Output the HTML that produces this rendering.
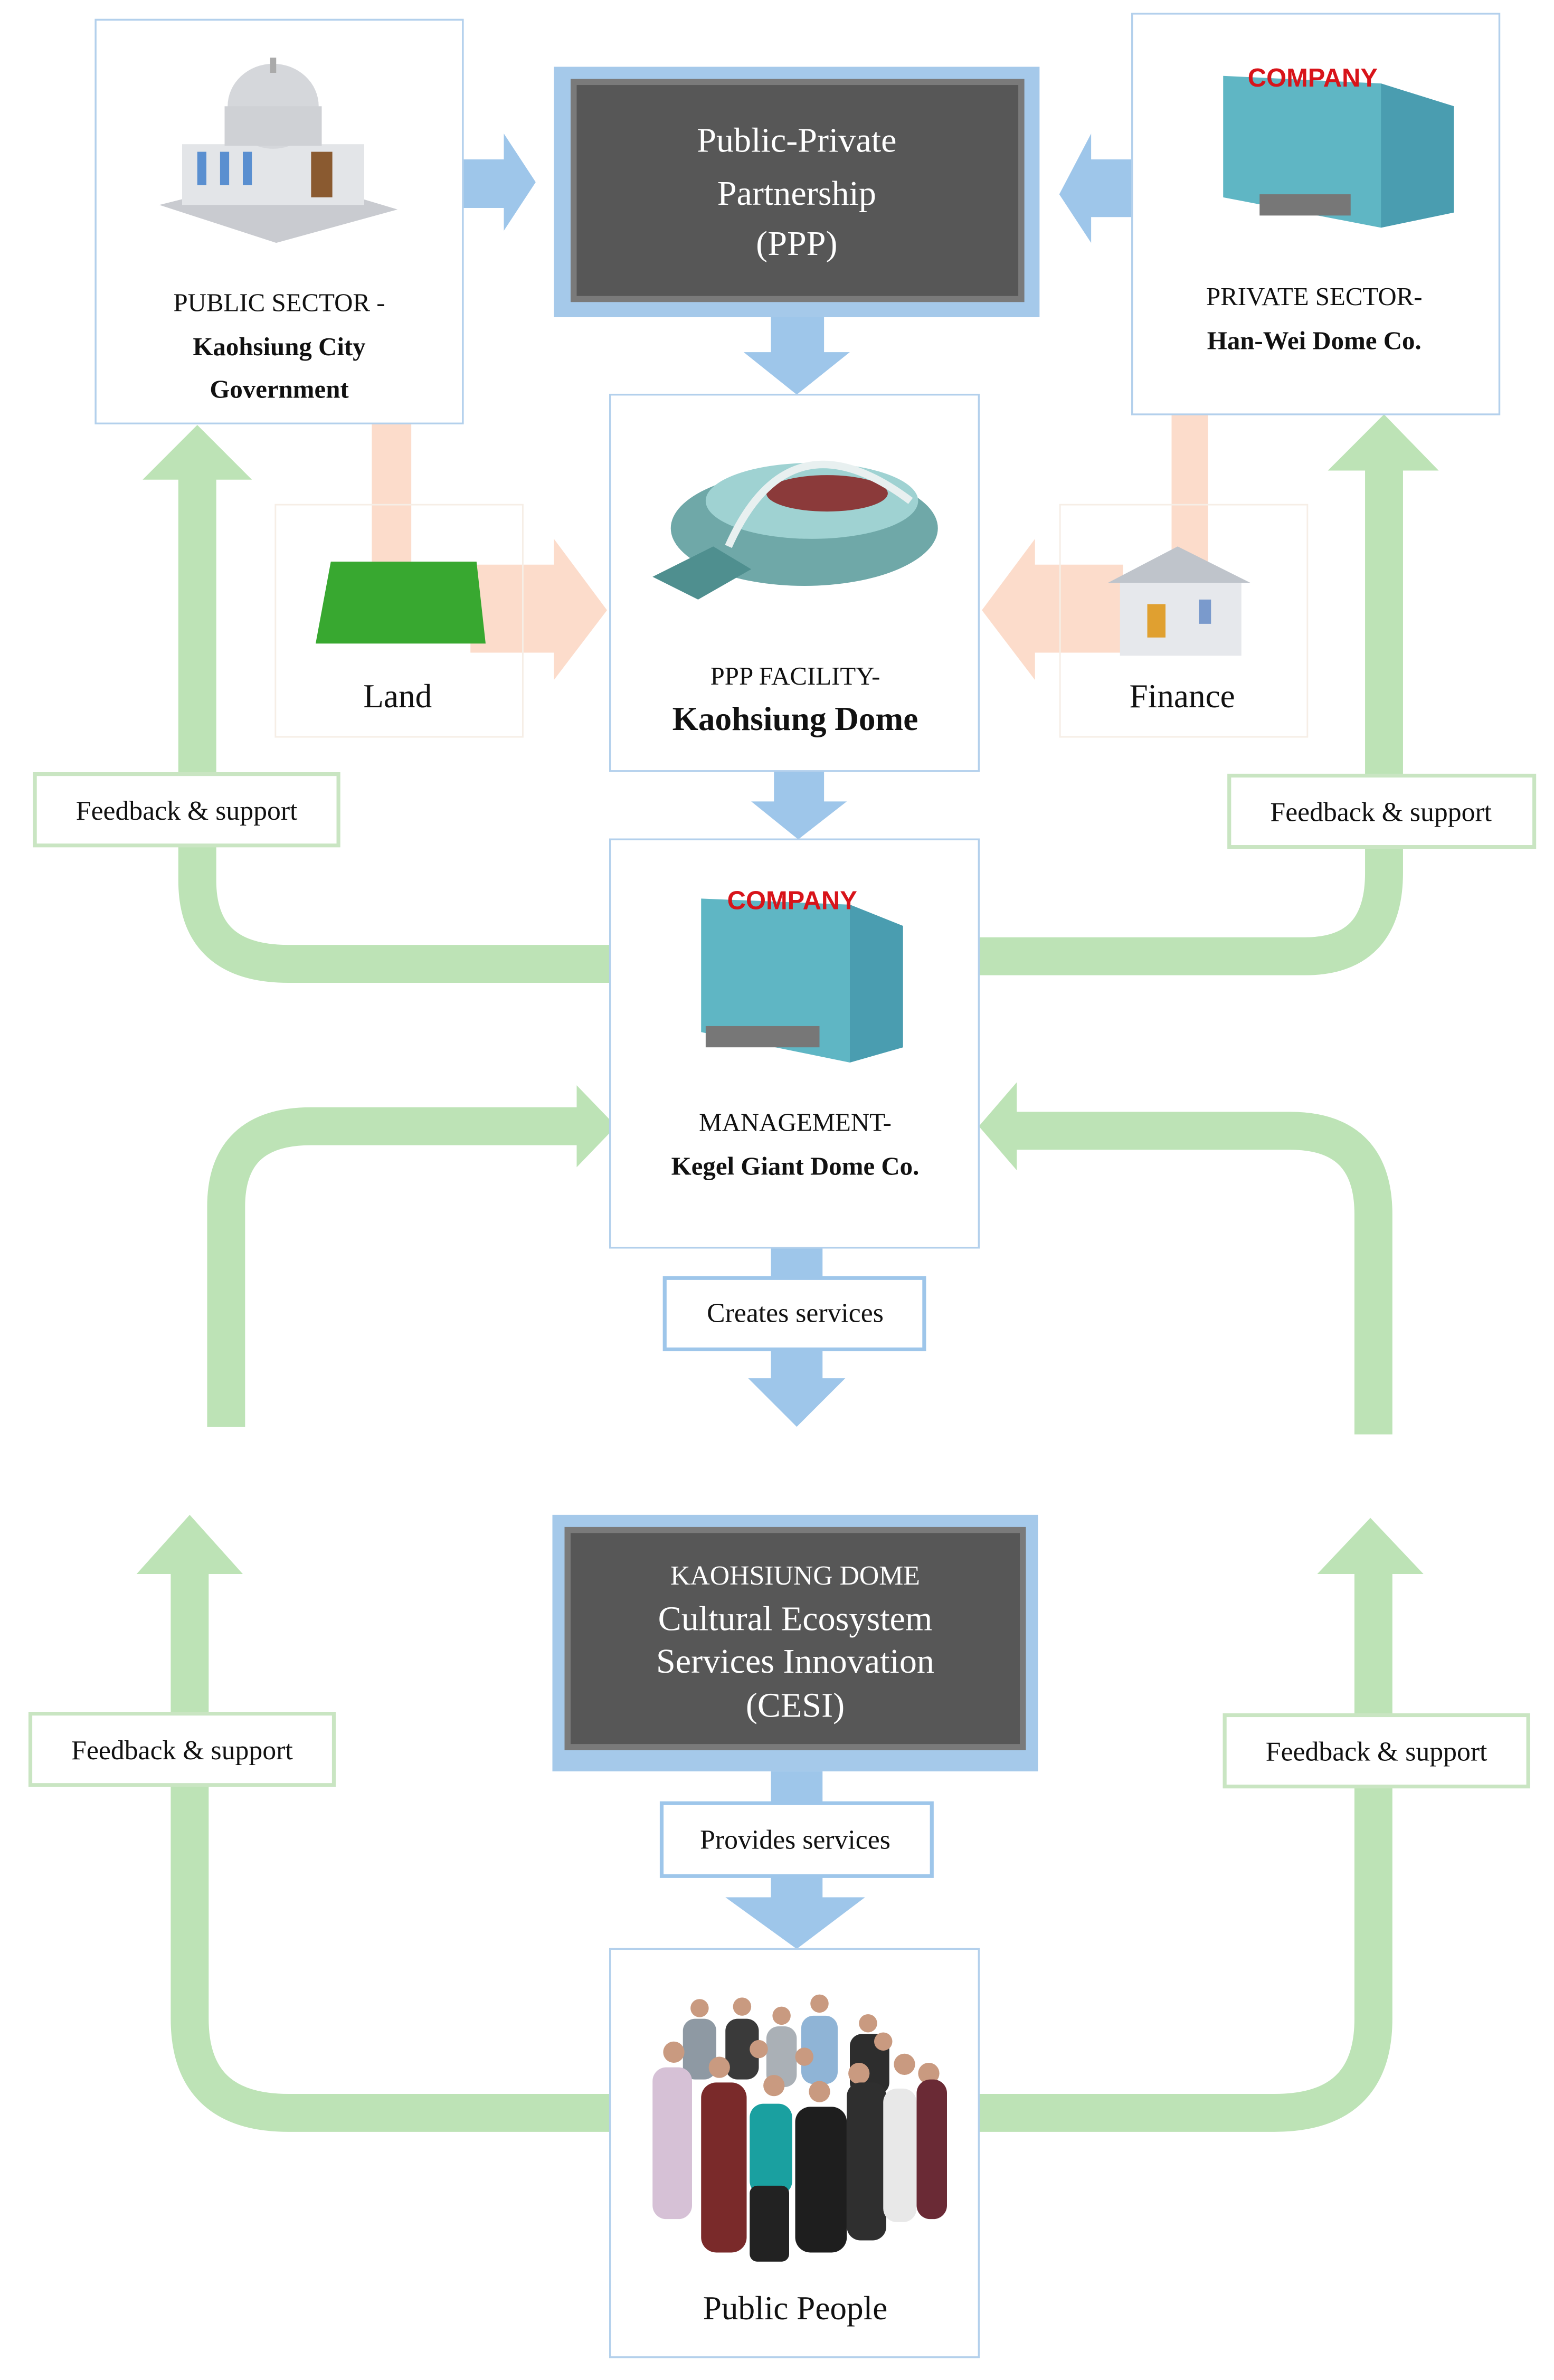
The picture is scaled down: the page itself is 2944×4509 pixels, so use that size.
<!DOCTYPE html>
<html><head><meta charset="utf-8"><style>
html,body{margin:0;padding:0;background:#fff}
svg{display:block}
text{font-family:"Liberation Serif",serif;fill:#111}
</style></head><body>
<svg width="2944" height="4509" viewBox="0 0 1024 1568" preserveAspectRatio="none" xmlns="http://www.w3.org/2000/svg">
<rect width="1024" height="1568" fill="#fff"/>
<g fill="none" stroke="#bde3b6" stroke-width="25">
<path d="M130,312 V580 Q130,635 190,635 H404"/>
<path d="M912,306 V575 Q912,630 860,630 H644"/>
<path d="M149,940 V795 Q149,742 205,742 H384"/>
<path d="M905,945 V800 Q905,745 850,745 H668"/>
<path d="M125,1034 V1330 Q125,1392 190,1392 H404"/>
<path d="M905,1034 V1330 Q905,1392 840,1392 H644"/>
</g>
<g fill="#bde3b6">
<polygon points="94,316 166,316 130,280"/>
<polygon points="875,310 948,310 912,273"/>
<polygon points="380,715 406,742 380,769"/>
<polygon points="670,713 645,742 670,771"/>
<polygon points="90,1037 160,1037 125,998"/>
<polygon points="868,1037 938,1037 903,1000"/>
</g>
<g fill="#fcdccb">
<rect x="245" y="279" width="26" height="95"/>
<rect x="772" y="273" width="24" height="100"/>
<polygon points="310,372 365,372 365,355 400,402 365,448 365,430 310,430"/>
<polygon points="740,372 682,372 682,355 647,402 682,448 682,430 740,430"/>
</g>
<rect x="181.5" y="332.5" width="163" height="153" fill="none" stroke="#f6eee6" stroke-width="1"/>
<rect x="698.5" y="332.5" width="163" height="153" fill="none" stroke="#f6eee6" stroke-width="1"/>
<g fill="#9ec6ea">
<polygon points="305,105 332,105 332,88 353,120 332,152 332,137 305,137"/>
<polygon points="746,105 719,105 719,88 698,128 719,160 719,143 746,143"/>
<polygon points="508,209 543,209 543,232 560,232 525,260 490,232 508,232"/>
<polygon points="510,508 543,508 543,528 558,528 526,553 495,528 510,528"/>
<rect x="508" y="822" width="34" height="22"/>
<polygon points="508,889 542,889 542,908 557,908 525,940 493,908 508,908"/>
<rect x="508" y="1167" width="34" height="22"/>
<polygon points="508,1236 542,1236 542,1250 570,1250 525,1284 478,1250 508,1250"/>
</g>
<g fill="#fff" stroke="#b3d0ec" stroke-width="1.2">
<rect x="63" y="13" width="242" height="266"/>
<rect x="746" y="9" width="242" height="264"/>
<rect x="402" y="260" width="243" height="248"/>
<rect x="402" y="553" width="243" height="269"/>
<rect x="402" y="1284" width="243" height="269"/>
</g>
<rect x="365" y="44" width="320" height="165" fill="#a5c9ea"/>
<rect x="376" y="52" width="299" height="147" fill="#7a7a7a"/>
<rect x="380" y="56" width="291" height="139" fill="#575757"/>
<text x="525" y="100" text-anchor="middle" font-size="23" style="fill:#fff">Public-Private</text>
<text x="525" y="135" text-anchor="middle" font-size="23" style="fill:#fff">Partnership</text>
<text x="525" y="168" text-anchor="middle" font-size="23" style="fill:#fff">(PPP)</text>
<rect x="364" y="998" width="320" height="169" fill="#a5c9ea"/>
<rect x="372" y="1006" width="304" height="147" fill="#7a7a7a"/>
<rect x="376" y="1010" width="296" height="139" fill="#575757"/>
<text x="524" y="1044" text-anchor="middle" font-size="18" style="fill:#fff">KAOHSIUNG DOME</text>
<text x="524" y="1074" text-anchor="middle" font-size="23" style="fill:#fff">Cultural Ecosystem</text>
<text x="524" y="1102" text-anchor="middle" font-size="23" style="fill:#fff">Services Innovation</text>
<text x="524" y="1131" text-anchor="middle" font-size="23" style="fill:#fff">(CESI)</text>
<g fill="#fff" stroke="#c9e5c2" stroke-width="2.5">
<rect x="23" y="510" width="200" height="47"/>
<rect x="810" y="511" width="201" height="47"/>
<rect x="20" y="1129" width="200" height="47"/>
<rect x="807" y="1130" width="200" height="47"/>
</g>
<g fill="#fff" stroke="#9ec6ea" stroke-width="2.5">
<rect x="438" y="842" width="171" height="47"/>
<rect x="436" y="1188" width="178" height="48"/>
</g>
<g font-size="18" text-anchor="middle">
<text x="123" y="540">Feedback &amp; support</text>
<text x="910" y="541">Feedback &amp; support</text>
<text x="120" y="1159">Feedback &amp; support</text>
<text x="907" y="1160">Feedback &amp; support</text>
<text x="524" y="871">Creates services</text>
<text x="524" y="1218">Provides services</text>
</g>
<g>
<polygon points="105,135 185,115 262,138 182,160" fill="#c9cbd0"/>
<rect x="120" y="95" width="120" height="40" fill="#e3e5e8"/>
<rect x="130" y="100" width="6" height="22" fill="#5a8fd0"/><rect x="145" y="100" width="6" height="22" fill="#5a8fd0"/><rect x="160" y="100" width="6" height="22" fill="#5a8fd0"/>
<rect x="205" y="100" width="14" height="30" fill="#8a5a30"/>
<ellipse cx="180" cy="70" rx="30" ry="28" fill="#d5d7db"/>
<rect x="148" y="70" width="64" height="26" fill="#cfd1d5"/>
<rect x="178" y="38" width="4" height="10" fill="#aaa"/>
</g>
<text x="184" y="205" text-anchor="middle" font-size="17">PUBLIC SECTOR -</text>
<text x="184" y="234" text-anchor="middle" font-size="17" font-weight="bold">Kaohsiung City</text>
<text x="184" y="262" text-anchor="middle" font-size="17" font-weight="bold">Government</text>
<g>
<polygon points="806,50 910,55 958,70 958,140 910,150 806,130" fill="#5fb6c4"/>
<polygon points="910,55 958,70 958,140 910,150" fill="#4a9db0"/>
<rect x="830" y="128" width="60" height="14" fill="#777"/>
<text x="865" y="57" text-anchor="middle" font-size="17" font-weight="bold" style="fill:#d8141a;font-family:'Liberation Sans',sans-serif">COMPANY</text>
</g>
<text x="866" y="201" text-anchor="middle" font-size="17">PRIVATE SECTOR-</text>
<text x="866" y="230" text-anchor="middle" font-size="17" font-weight="bold">Han-Wei Dome Co.</text>
<g>
<ellipse cx="530" cy="348" rx="88" ry="38" fill="#6fa8a8"/>
<ellipse cx="535" cy="330" rx="70" ry="25" fill="#9fd2d2"/>
<ellipse cx="545" cy="325" rx="40" ry="12" fill="#8b3a3a"/>
<path d="M480,360 Q520,270 600,330" fill="none" stroke="#e8f0f0" stroke-width="5"/>
<polygon points="430,380 470,360 495,375 460,395" fill="#4f8f8f"/>
</g>
<text x="524" y="451" text-anchor="middle" font-size="17">PPP FACILITY-</text>
<text x="524" y="481" text-anchor="middle" font-size="22" font-weight="bold">Kaohsiung Dome</text>
<polygon points="218,370 314,370 320,424 208,424" fill="#38a830"/>
<text x="262" y="466" text-anchor="middle" font-size="22">Land</text>
<g>
<rect x="738" y="382" width="80" height="50" fill="#e6e8ec"/>
<polygon points="730,384 776,360 824,384" fill="#bfc4cb"/>
<rect x="756" y="398" width="12" height="22" fill="#e0a030"/>
<rect x="790" y="395" width="8" height="16" fill="#7a9acc"/>
</g>
<text x="779" y="466" text-anchor="middle" font-size="22">Finance</text>
<g>
<polygon points="462,592 560,596 595,610 595,690 560,700 462,680" fill="#5fb6c4"/>
<polygon points="560,596 595,610 595,690 560,700" fill="#4a9db0"/>
<rect x="465" y="676" width="75" height="14" fill="#777"/>
<text x="522" y="599" text-anchor="middle" font-size="17" font-weight="bold" style="fill:#d8141a;font-family:'Liberation Sans',sans-serif">COMPANY</text>
</g>
<text x="524" y="745" text-anchor="middle" font-size="17">MANAGEMENT-</text>
<text x="524" y="774" text-anchor="middle" font-size="17" font-weight="bold">Kegel Giant Dome Co.</text>
<!-- people crowd -->
<g>
<g fill="#8e99a3">
<rect x="450" y="1330" width="22" height="40" rx="8"/>
<rect x="478" y="1330" width="22" height="40" rx="8" fill="#3a3a3a"/>
<rect x="505" y="1335" width="20" height="40" rx="8" fill="#aab0b6"/>
<rect x="528" y="1328" width="24" height="45" rx="8" fill="#8fb4d6"/>
<rect x="560" y="1340" width="26" height="40" rx="8" fill="#2d2d2d"/>
</g>
<g fill="#c99a80">
<circle cx="461" cy="1323" r="6"/><circle cx="489" cy="1322" r="6"/><circle cx="515" cy="1328" r="6"/><circle cx="540" cy="1320" r="6"/><circle cx="572" cy="1333" r="6"/>
<circle cx="444" cy="1352" r="7"/><circle cx="474" cy="1362" r="7"/><circle cx="510" cy="1374" r="7"/><circle cx="540" cy="1378" r="7"/><circle cx="566" cy="1366" r="7"/><circle cx="596" cy="1360" r="7"/><circle cx="612" cy="1366" r="7"/><circle cx="500" cy="1350" r="6"/><circle cx="530" cy="1355" r="6"/><circle cx="582" cy="1345" r="6"/>
</g>
<rect x="430" y="1362" width="26" height="100" rx="9" fill="#d6c1d6"/>
<rect x="462" y="1372" width="30" height="112" rx="10" fill="#7a2a2a"/>
<rect x="494" y="1386" width="28" height="60" rx="9" fill="#1aa0a0"/>
<rect x="494" y="1440" width="26" height="50" rx="5" fill="#222"/>
<rect x="524" y="1388" width="34" height="96" rx="10" fill="#1e1e1e"/>
<rect x="558" y="1372" width="26" height="104" rx="9" fill="#2f2f2f"/>
<rect x="582" y="1376" width="22" height="88" rx="9" fill="#e8e8e8"/>
<rect x="604" y="1370" width="20" height="92" rx="9" fill="#6a2a35"/>
</g>
<text x="524" y="1528" text-anchor="middle" font-size="22">Public People</text>
</svg>
</body></html>
